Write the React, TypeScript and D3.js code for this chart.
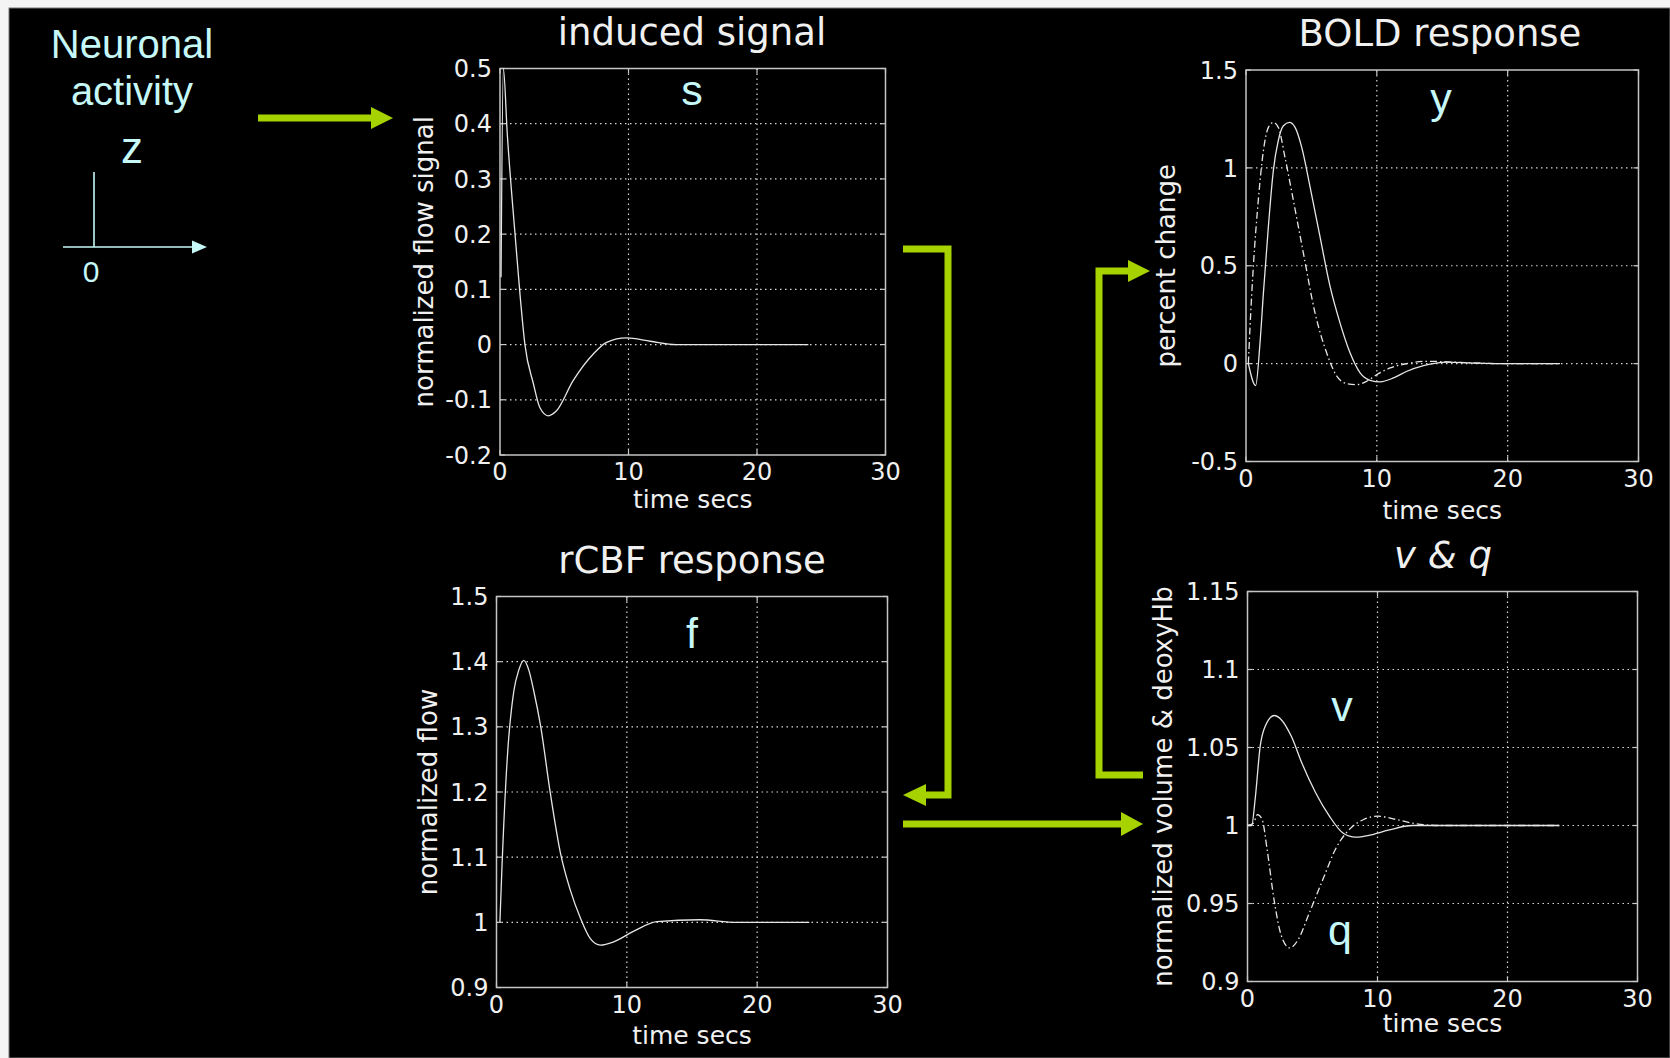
import React from "react";
import * as d3 from "d3";

// time axis shared by all four panels
const timeTicks = [0, 10, 20, 30];

const signalTicks = [-0.2, -0.1, 0, 0.1, 0.2, 0.3, 0.4, 0.5];
const flowTicks = [0.9, 1, 1.1, 1.2, 1.3, 1.4, 1.5];
const boldTicks = [-0.5, 0, 0.5, 1, 1.5];
const volumeTicks = [0.9, 0.95, 1, 1.05, 1.1, 1.15];

// induced signal s
const sTime = [0.08, 0.26, 0.57, 1.17, 1.56, 1.94, 2.6, 3.1, 3.76, 4.4, 5.7, 7.26, 8.3, 9.85, 11.7, 13.7, 24];
const sValues = [0.122, 0.5, 0.38, 0.2, 0.09, 0, -0.071, -0.114, -0.129, -0.12, -0.065, -0.017, 0.004, 0.012, 0.006, 0, 0];

// rCBF f
const fTime = [0.26, 0.43, 0.82, 1.33, 1.71, 2.09, 2.48, 2.86, 3.37, 4.14, 4.9, 5.67, 6.43, 7.2, 7.97, 8.99, 10.5, 12.3, 15.6, 18.4, 24];
const fValues = [1.0, 1.09, 1.25, 1.355, 1.387, 1.402, 1.387, 1.355, 1.303, 1.197, 1.107, 1.049, 1.007, 0.975, 0.965, 0.97, 0.986, 1.001, 1.004, 1.0, 1.0];

// BOLD y (solid) and the faster dash-dot response
const yTime = [0.18, 0.74, 1.07, 1.33, 1.71, 2.09, 2.47, 2.86, 3.32, 3.75, 4.26, 4.9, 5.66, 6.43, 7.19, 7.96, 8.72, 9.49, 10.26, 11.28, 12.3, 13.57, 15.36, 17.4, 19.4, 24];
const yValues = [0, -0.112, 0.105, 0.36, 0.7, 0.986, 1.14, 1.215, 1.232, 1.207, 1.105, 0.902, 0.647, 0.393, 0.207, 0.054, -0.047, -0.085, -0.093, -0.073, -0.039, -0.01, 0.008, 0.003, 0, 0];
const yAltTime = [0.18, 0.31, 0.56, 0.94, 1.33, 1.71, 2.09, 2.47, 2.98, 3.62, 4.39, 5.28, 6.17, 6.94, 7.7, 8.47, 9.23, 10, 11.02, 12.3, 13.8, 16.1, 19.4, 24];
const yAltValues = [0, 0.19, 0.495, 0.834, 1.088, 1.207, 1.232, 1.207, 1.054, 0.834, 0.563, 0.258, 0.054, -0.064, -0.102, -0.107, -0.09, -0.056, -0.022, 0, 0.012, 0.007, 0, 0];

// volume v (solid) and deoxyHb q (dash-dot)
const vTime = [0, 0.32, 0.59, 0.98, 1.38, 2.05, 2.58, 3.38, 4.18, 5.24, 6.3, 7.37, 8.3, 9.5, 10.83, 12.7, 24];
const vValues = [1.0, 1.0, 1.017, 1.051, 1.064, 1.0705, 1.068, 1.057, 1.04, 1.021, 1.006, 0.995, 0.9925, 0.994, 0.997, 1.0, 1.0];
const qTime = [0, 0.45, 0.77, 1.12, 1.52, 2.05, 2.58, 3.25, 3.91, 4.71, 5.78, 6.84, 7.9, 8.97, 10.03, 11.37, 12.7, 14.8, 24];
const qValues = [1.0, 1.0015, 1.007, 1.004, 0.984, 0.952, 0.93, 0.9215, 0.927, 0.943, 0.965, 0.986, 0.998, 1.004, 1.006, 1.004, 1.0015, 1.0, 1.0];

const WHITE = "#f0f0f0";
const CYAN = "#c6f8f8";
const GREEN = "#a6d200";
const CHART_FONT = "'DejaVu Sans', sans-serif";
const NOTE_FONT = "'Liberation Sans', Arial, sans-serif";

const zip = (t: number[], v: number[]) => t.map((d, i) => [d, v[i]] as [number, number]);

type Box = { x: number; y: number; w: number; h: number };
type Series = { points: [number, number][]; dash?: string };
type Note = { text: string; x: number; y: number };

function Panel({
  box, yDomain, yTicks, title, titleY, titleX, italic, yLabel, yLabelX, xLabelY, series, notes,
}: {
  box: Box; yDomain: [number, number]; yTicks: number[]; title: string; titleY: number; titleX: number;
  italic?: boolean; yLabel: string; yLabelX: number; xLabelY: number; series: Series[]; notes: Note[];
}) {
  const x = d3.scaleLinear().domain([0, 30]).range([box.x, box.x + box.w]);
  const y = d3.scaleLinear().domain(yDomain).range([box.y + box.h, box.y]);
  const line = d3.line<[number, number]>()
    .x((d) => x(d[0]))
    .y((d) => y(d[1]))
    .curve(d3.curveMonotoneX);
  const bottom = box.y + box.h;
  const inner = (arr: number[]) => arr.slice(1, -1);

  return (
    <g>
      {/* dotted grid */}
      {inner(timeTicks).map((t) => (
        <line key={"gx" + t} x1={x(t)} x2={x(t)} y1={box.y} y2={bottom}
          stroke="#d8d8d8" strokeWidth={1.2} strokeDasharray="1.5 3.5" />
      ))}
      {inner(yTicks).map((t) => (
        <line key={"gy" + t} x1={box.x} x2={box.x + box.w} y1={y(t)} y2={y(t)}
          stroke="#d8d8d8" strokeWidth={1.2} strokeDasharray="1.5 3.5" />
      ))}
      {/* tick marks inside the box */}
      {timeTicks.map((t) => (
        <g key={"tx" + t} stroke="#c8c8c8" strokeWidth={1.2}>
          <line x1={x(t)} x2={x(t)} y1={bottom} y2={bottom - 5} />
          <line x1={x(t)} x2={x(t)} y1={box.y} y2={box.y + 5} />
        </g>
      ))}
      {yTicks.map((t) => (
        <g key={"ty" + t} stroke="#c8c8c8" strokeWidth={1.2}>
          <line x1={box.x} x2={box.x + 5} y1={y(t)} y2={y(t)} />
          <line x1={box.x + box.w} x2={box.x + box.w - 5} y1={y(t)} y2={y(t)} />
        </g>
      ))}
      <rect x={box.x} y={box.y} width={box.w} height={box.h} fill="none" stroke="#c4c4c4" strokeWidth={1.5} />

      {series.map((s, i) => (
        <path key={i} d={line(s.points) || ""} fill="none" stroke="#e6e6e6"
          strokeWidth={1.3} strokeDasharray={s.dash} />
      ))}

      {/* tick labels */}
      <g fill={WHITE} fontFamily={CHART_FONT} fontSize={24}>
        {yTicks.map((t) => (
          <text key={"ly" + t} x={box.x - 8} y={y(t)} dy="0.36em" textAnchor="end">{String(t)}</text>
        ))}
        {timeTicks.map((t) => (
          <text key={"lx" + t} x={x(t)} y={bottom + 25} textAnchor="middle">{String(t)}</text>
        ))}
      </g>
      <text x={x(15)} y={xLabelY} textAnchor="middle" fill={WHITE} fontFamily={CHART_FONT} fontSize={25}>time secs</text>
      <text transform={`translate(${yLabelX},${box.y + box.h / 2}) rotate(-90)`} textAnchor="middle"
        fill={WHITE} fontFamily={CHART_FONT} fontSize={26}>{yLabel}</text>
      <text x={titleX} y={titleY} textAnchor="middle" fill={WHITE} fontFamily={CHART_FONT}
        fontSize={37} fontStyle={italic ? "italic" : "normal"}>{title}</text>
      {notes.map((n) => (
        <text key={n.text} x={n.x} y={n.y} textAnchor="middle" fill={CYAN} fontFamily={NOTE_FONT} fontSize={43}>{n.text}</text>
      ))}
    </g>
  );
}

function Arrow({ pts, head }: { pts: [number, number][]; head: [number, number][] }) {
  return (
    <g>
      <polyline points={pts.map((p) => p.join(",")).join(" ")} fill="none" stroke={GREEN} strokeWidth={7} strokeLinejoin="miter" />
      <polygon points={head.map((p) => p.join(",")).join(" ")} fill={GREEN} />
    </g>
  );
}

export default function App() {
  const dashDot = "7 3 1.5 3";
  return (
    <svg width={1670} height={1058} style={{ position: "absolute", left: 0, top: 0 }}>
      <rect x={0} y={0} width={1670} height={1058} fill="#f4f4f4" />
      <rect x={9} y={8} width={1661} height={1050} fill="#000" stroke="#777" strokeWidth={1} />

      {/* neuronal activity */}
      <g fill={CYAN} fontFamily={NOTE_FONT} textAnchor="middle">
        <text x={132} y={58} fontSize={40}>Neuronal</text>
        <text x={132} y={105} fontSize={40}>activity</text>
        <text x={132} y={163} fontSize={44}>z</text>
        <text x={91} y={282} fontSize={30}>0</text>
      </g>
      <g stroke={CYAN} strokeWidth={1.6}>
        <line x1={94} x2={94} y1={172} y2={247} />
        <line x1={63} x2={194} y1={247} y2={247} />
      </g>
      <polygon points="207,247 192,240.5 192,253.5" fill={CYAN} />

      <Arrow pts={[[258, 118], [372, 118]]} head={[[393, 118], [371, 107], [371, 129]]} />
      <Arrow pts={[[903, 249], [948, 249], [948, 795], [924, 795]]} head={[[903, 795], [926, 784], [926, 806]]} />
      <Arrow pts={[[1143, 775], [1099, 775], [1099, 271], [1130, 271]]} head={[[1150, 271], [1128, 260], [1128, 282]]} />
      <Arrow pts={[[903, 824], [1123, 824]]} head={[[1143, 824], [1121, 812], [1121, 836]]} />

      <Panel box={{ x: 500, y: 68.5, w: 385.5, h: 386.5 }} yDomain={[-0.2, 0.5]} yTicks={signalTicks}
        title="induced signal" titleX={692} titleY={45} yLabel="normalized flow signal" yLabelX={433}
        xLabelY={508} series={[{ points: zip(sTime, sValues) }]}
        notes={[{ text: "s", x: 692, y: 105 }]} />
      <Panel box={{ x: 496.5, y: 596.5, w: 391, h: 391 }} yDomain={[0.9, 1.5]} yTicks={flowTicks}
        title="rCBF response" titleX={692} titleY={573} yLabel="normalized flow" yLabelX={437}
        xLabelY={1044} series={[{ points: zip(fTime, fValues) }]}
        notes={[{ text: "f", x: 692, y: 648 }]} />
      <Panel box={{ x: 1246, y: 70, w: 392.5, h: 391.5 }} yDomain={[-0.5, 1.5]} yTicks={boldTicks}
        title="BOLD response" titleX={1440} titleY={46} yLabel="percent change" yLabelX={1175}
        xLabelY={519}
        series={[{ points: zip(yTime, yValues) }, { points: zip(yAltTime, yAltValues), dash: dashDot }]}
        notes={[{ text: "y", x: 1441, y: 113 }]} />
      <Panel box={{ x: 1247.5, y: 591.5, w: 390, h: 390 }} yDomain={[0.9, 1.15]} yTicks={volumeTicks}
        title="v & q" italic titleX={1443} titleY={568} yLabel="normalized volume & deoxyHb" yLabelX={1172}
        xLabelY={1032}
        series={[{ points: zip(vTime, vValues) }, { points: zip(qTime, qValues), dash: dashDot }]}
        notes={[{ text: "v", x: 1342, y: 721 }, { text: "q", x: 1340, y: 945 }]} />
    </svg>
  );
}
